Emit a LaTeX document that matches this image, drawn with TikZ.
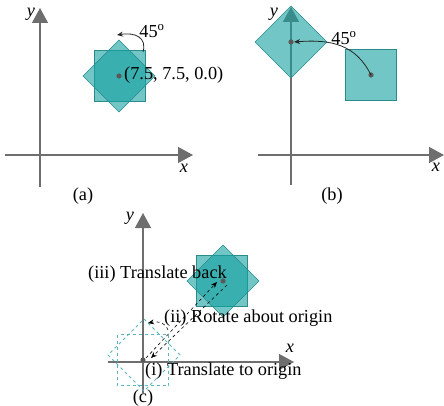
\documentclass[tikz,border=0pt]{standalone}
\usepackage{fontspec}
\setmainfont{Liberation Serif}
\usetikzlibrary{arrows.meta}
\definecolor{tealfill}{RGB}{20,160,160}
\definecolor{tealline}{RGB}{40,140,140}
\definecolor{axisgray}{RGB}{110,110,110}
\definecolor{dashteal}{RGB}{90,180,190}
\begin{document}
\begin{tikzpicture}[x=1pt,y=-1pt,
 axis/.style={draw=axisgray,line width=1.3pt,-{Triangle[length=15pt,width=16pt]}},
 shapefill/.style={fill=tealfill,fill opacity=0.6,draw=tealline,line width=0.6pt},
 ghost/.style={draw=dashteal,dashed,line width=0.8pt},
 lbl/.style={font=\fontsize{18.3}{20}\selectfont,inner sep=0pt},
 axlbl/.style={font=\fontsize{18.3}{20}\selectfont\itshape,inner sep=0pt},
 dotc/.style={fill=black!65,draw=none},
 rotarrow/.style={draw=black!85,line width=0.8pt,-{Stealth[length=6pt,width=5pt]}},
 transarrow/.style={draw=black,dashed,line width=0.6pt,-{Stealth[length=6pt,width=5pt]}},
]
\useasboundingbox (0,0) rectangle (444,406);
% ---------- panel (a)
\coordinate (ayb) at (40,187); \coordinate (ayt) at (40,8);
\coordinate (axl) at (5,155);  \coordinate (axr) at (193,155);
\draw[axis] (ayb) -- (ayt);
\draw[axis] (axl) -- (axr);
\node[axlbl] (ax) at (184,168) {x};
\node[axlbl] (ay) at (31,14) {y};
\draw[shapefill] (94.5,50.5) rectangle (145.5,101.5);
\draw[shapefill] (119,40) -- (155,76) -- (119,112) -- (83,76) -- cycle;
\fill[dotc] (119,76) circle (2.6pt);
\node[lbl,anchor=west] (acoord) at (124,75) {(7.5, 7.5, 0.0)};
\coordinate (a1) at (143,52); \coordinate (a2) at (117,35);
\draw[rotarrow] (a1) .. controls (147,38) and (136,32) .. (a2);
\node[lbl] (aang) at (152,31) {45\textsuperscript{o}};
\node[lbl] (capa) at (83,196) {(a)};
% ---------- panel (b)
\coordinate (byb) at (291,185); \coordinate (byt) at (291,7);
\coordinate (bxl) at (258,155); \coordinate (bxr) at (444,155);
\draw[axis] (byb) -- (byt);
\draw[axis] (bxl) -- (bxr);
\node[axlbl] (bx) at (436,167) {x};
\node[axlbl] (by) at (274,14) {y};
\draw[shapefill] (345.5,49.5) rectangle (396.5,100.5);
\draw[shapefill] (291,6) -- (327,42) -- (291,78) -- (255,42) -- cycle;
\coordinate (b1) at (371,75); \coordinate (b2) at (294,42);
\fill[dotc] (b1) circle (2.6pt);
\fill[dotc] (291,42) circle (2.6pt);
\draw[rotarrow] (b1) .. controls (356,45) and (332,39) .. (b2);
\node[lbl] (bang) at (344,38) {45\textsuperscript{o}};
\node[lbl] (capb) at (332,196) {(b)};
% ---------- panel (c)
\coordinate (cyb) at (143,393); \coordinate (cyt) at (143,213);
\coordinate (cxl) at (108,362); \coordinate (cxr) at (294,362);
\draw[axis] (cyb) -- (cyt);
\draw[axis] (cxl) -- (cxr);
\node[axlbl] (cx) at (290,348) {x};
\node[axlbl] (cy) at (130,218) {y};
\draw[ghost] (117.5,334.5) rectangle (168.5,385.5);
\draw[ghost] (144,319) -- (180,355) -- (144,391) -- (108,355) -- cycle;
\draw[shapefill] (196.5,255.5) rectangle (247.5,306.5);
\draw[shapefill] (223,245) -- (259,281) -- (223,317) -- (187,281) -- cycle;
\fill[dotc] (223,281) circle (2.6pt);
\fill[dotc] (143,360) circle (2.6pt);
\coordinate (c0a) at (146,358); \coordinate (c1a) at (217,282);
\coordinate (c1b) at (227,285); \coordinate (c0b) at (151,358);
\draw[transarrow] (c0a) -- (c1a);
\draw[transarrow] (c1b) -- (c0b);
\coordinate (c2a) at (168,330); \coordinate (c2b) at (148,323);
\draw[transarrow] (c2a) .. controls (165,322) and (158,321) .. (c2b);
\node[lbl,anchor=west] (tback) at (88,274) {(iii) Translate back};
\node[lbl,anchor=west] (trot) at (164,318) {(ii) Rotate about origin};
\node[lbl,anchor=west] (torig) at (145,371) {(i) Translate to origin};
\node[lbl] (capc) at (143,398) {(c)};
\end{tikzpicture}
\end{document}
